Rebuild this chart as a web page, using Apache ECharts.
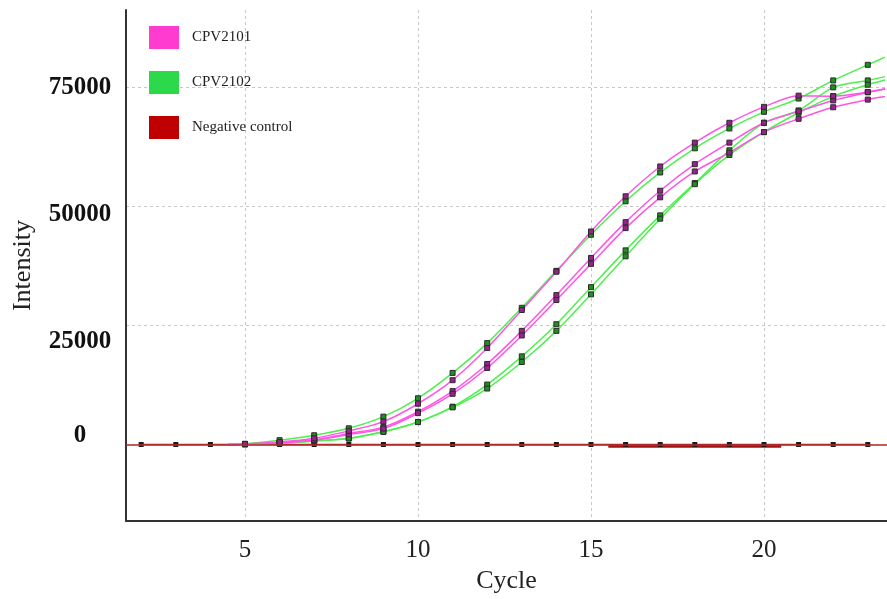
<!DOCTYPE html>
<html>
<head>
<meta charset="utf-8">
<script src="https://cdn.jsdelivr.net/npm/echarts@6/dist/echarts.min.js"></script>
<style>
html,body{margin:0;padding:0;background:#fff;}
#chart{width:887px;height:599px;}
</style>
</head>
<body>
<div id="chart"></div>
<script>
// ---- data ----
const cycles = [4.5, 5, 6, 7, 8, 9, 10, 11, 12, 13, 14, 15, 16, 17, 18, 19, 20, 21, 22, 23, 23.5];
const cpv2101_a = [0, 100, 500, 1300, 2860, 4800, 8560, 13510, 20260, 28250, 36300, 44760, 52150, 58420, 63430, 67600, 70950, 73300, 73200, 74080, 74760];
const cpv2101_b = [0, 80, 400, 1000, 2300, 3650, 6890, 11210, 16920, 23870, 31390, 39200, 46720, 53320, 58900, 63430, 67600, 70000, 72300, 74000, 74700];
const cpv2101_c = [0, 60, 350, 900, 2100, 3340, 6580, 10650, 16080, 22910, 30350, 37950, 45470, 51940, 57370, 61340, 65640, 68440, 70860, 72470, 73100];
const cpv2102_a = [0, 150, 900, 1940, 3400, 5850, 9710, 15040, 21300, 28720, 36490, 44070, 51100, 57160, 62240, 66410, 69900, 72700, 76500, 79780, 81400];
const cpv2102_b = [0, 50, 300, 770, 1300, 2710, 4740, 7940, 12590, 18520, 25270, 33060, 40790, 48140, 54930, 61820, 67600, 70200, 75040, 76500, 77300];
const cpv2102_c = [0, 40, 250, 700, 1250, 2650, 4700, 7800, 11760, 17330, 23870, 31540, 39540, 47450, 54700, 60840, 65640, 69700, 73160, 75600, 76600];
const negCycles = [2, 3, 4, 5, 6, 7, 8, 9, 10, 11, 12, 13, 14, 15, 16, 17, 18, 19, 20, 21, 22, 23];
const negValues = [0, 0, 0, 0, 0, 0, 0, 0, 0, 0, 0, 0, 0, 0, 0, 0, 0, 0, 0, 0, 0, 0];
const neg2Cycles = [15.5, 16, 17, 18, 19, 20, 20.5];
const neg2Values = [-350, -350, -350, -350, -350, -350, -350];
const xTicks = [5, 10, 15, 20];
const yTicks = [0, 25000, 50000, 75000];
const yTickLabels = ['0', '25000', '50000', '75000'];
const legendNames = ['CPV2101', 'CPV2102', 'Negative control'];

// ---- styles ----
const MAG_LINE = '#ff55e6', GRN_LINE = '#4df04d', RED_LINE = '#b42a2a';
const MAG_LEG = '#ff3ccf', GRN_LEG = '#2bd94b', RED_LEG = '#c00000';
const SERIF = '"Liberation Serif","Times New Roman",serif';

function pairs(xs, ys) { return xs.map((x, i) => [x, ys[i]]); }
const symFn = (v) => Number.isInteger(v[0]) ? 'rect' : 'none';

function curve(name, ys, lineColor, markColor) {
  return {
    name: name, type: 'line', smooth: 0.3,
    data: pairs(cycles, ys),
    symbol: symFn, symbolSize: 5, showSymbol: true,
    lineStyle: { color: lineColor, width: 1.5 },
    itemStyle: { color: markColor, borderColor: '#2a2a2a', borderWidth: 1 },
    emphasis: { disabled: true },
    z: 3
  };
}

const yRich = {};
const yShift = { '0': -8.5, '25000': 16.5, '50000': 8, '75000': 0 };
yTickLabels.forEach((t) => {
  const s = yShift[t];
  yRich['r' + t] = {
    fontFamily: SERIF, fontSize: 25, fontWeight: 'bold', color: '#111',
    padding: s >= 0 ? [2 * s, 0, 0, 0] : [0, 0, -2 * s, 0]
  };
});

const chart = echarts.init(document.getElementById('chart'), null, { renderer: 'canvas' });
chart.setOption({
  animation: false,
  backgroundColor: '#fff',
  grid: { left: 126, right: 0, top: 10, bottom: 75, containLabel: false },
  legend: {
    orient: 'vertical', left: 149, top: 26, padding: 0,
    itemWidth: 30, itemHeight: 23, itemGap: 22,
    icon: 'rect',
    textStyle: { fontFamily: SERIF, fontSize: 15, color: '#222', padding: [0, 0, 0, 8] },
    data: [
      { name: legendNames[0], itemStyle: { color: MAG_LEG, borderWidth: 0 } },
      { name: legendNames[1], itemStyle: { color: GRN_LEG, borderWidth: 0 } },
      { name: legendNames[2], itemStyle: { color: RED_LEG, borderWidth: 0 } }
    ]
  },
  xAxis: {
    type: 'value', min: 1.561, max: 23.555,
    name: 'Cycle', nameLocation: 'middle', nameGap: 44,
    nameTextStyle: { fontFamily: SERIF, fontSize: 26, color: '#222' },
    axisLine: { show: true, onZero: false, lineStyle: { color: '#333', width: 2 } },
    axisTick: { show: false, customValues: xTicks },
    axisLabel: { customValues: xTicks, fontFamily: SERIF, fontSize: 25, color: '#222', margin: 17 },
    splitLine: { show: true, lineStyle: { color: '#c8c8c8', type: [3, 3], width: 1 } }
  },
  yAxis: {
    type: 'value', min: -16100, max: 91300,
    name: 'Intensity', nameLocation: 'middle', nameGap: 90,
    nameTextStyle: { fontFamily: SERIF, fontSize: 26, color: '#222' },
    axisLine: { show: true, onZero: false, lineStyle: { color: '#333', width: 2 } },
    axisTick: { show: false, customValues: yTicks },
    axisLabel: {
      customValues: yTicks, align: 'center', margin: 46,
      fontFamily: SERIF, fontSize: 25, fontWeight: 'bold', color: '#111',
      formatter: (v) => { const t = yTickLabels[yTicks.indexOf(v)]; return '{r' + t + '|' + t + '}'; },
      rich: yRich
    },
    splitLine: { show: true, lineStyle: { color: '#c8c8c8', type: [3, 3], width: 1 } }
  },
  series: [
    {
      name: legendNames[2], type: 'line',
      data: pairs(negCycles, negValues),
      symbol: 'rect', symbolSize: 5,
      lineStyle: { color: RED_LINE, width: 1.5 },
      itemStyle: { color: '#1a1a1a' },
      emphasis: { disabled: true },
      markLine: {
        silent: true, symbol: 'none', label: { show: false },
        lineStyle: { color: RED_LINE, width: 1.5, type: 'solid' },
        data: [{ yAxis: 0 }]
      },
      z: 2
    },
    {
      name: legendNames[2], type: 'line',
      data: pairs(neg2Cycles, neg2Values),
      showSymbol: false,
      lineStyle: { color: '#a01818', width: 3 },
      emphasis: { disabled: true },
      z: 2
    },
    curve(legendNames[1], cpv2102_b, GRN_LINE, '#1f8f1f'),
    curve(legendNames[1], cpv2102_c, GRN_LINE, '#1f8f1f'),
    curve(legendNames[0], cpv2101_b, MAG_LINE, '#9a2090'),
    curve(legendNames[0], cpv2101_c, MAG_LINE, '#9a2090'),
    curve(legendNames[1], cpv2102_a, GRN_LINE, '#1f8f1f'),
    curve(legendNames[0], cpv2101_a, MAG_LINE, '#9a2090')
  ]
});
</script>
</body>
</html>
